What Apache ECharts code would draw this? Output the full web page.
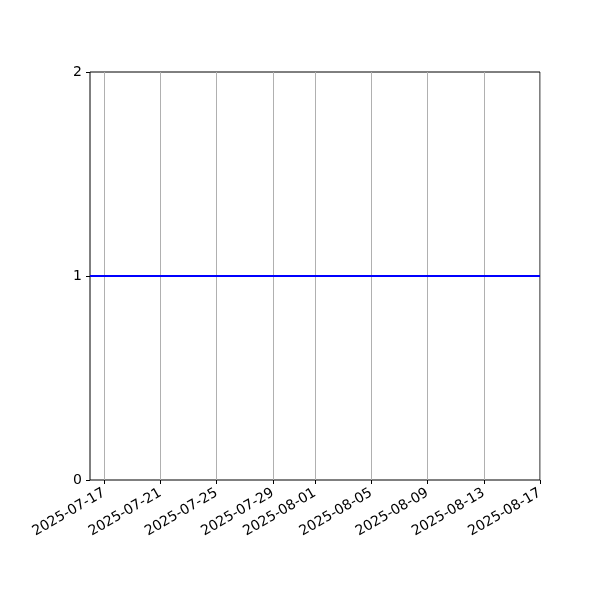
<!DOCTYPE html>
<html><head><meta charset="utf-8">
<script src="https://cdn.jsdelivr.net/npm/echarts@6/dist/echarts.min.js"></script>
<style>html,body{margin:0;padding:0;background:#fff}#c{width:600px;height:600px}</style>
</head><body><div id="c"></div>
<script>
const dates = ["2025-07-16","2025-07-17","2025-07-18","2025-07-19","2025-07-20","2025-07-21","2025-07-22","2025-07-23","2025-07-24","2025-07-25","2025-07-26","2025-07-27","2025-07-28","2025-07-29","2025-07-30","2025-07-31","2025-08-01","2025-08-02","2025-08-03","2025-08-04","2025-08-05","2025-08-06","2025-08-07","2025-08-08","2025-08-09","2025-08-10","2025-08-11","2025-08-12","2025-08-13","2025-08-14","2025-08-15","2025-08-16","2025-08-17"];
const values = [1,1,1,1,1,1,1,1,1,1,1,1,1,1,1,1,1,1,1,1,1,1,1,1,1,1,1,1,1,1,1,1,1];
const xTickLabels = ["2025-07-17","2025-07-21","2025-07-25","2025-07-29","2025-08-01","2025-08-05","2025-08-09","2025-08-13","2025-08-17"];
const yTicks = [0,1,2];

const isTick = (i) => xTickLabels.includes(dates[i]);
const chart = echarts.init(document.getElementById('c'), null, {renderer:'canvas'});
chart.setOption({
  animation:false,
  grid:{left:90,right:60,top:72,bottom:120,show:true,borderColor:'#000',borderWidth:1,backgroundColor:'transparent'},
  xAxis:{
    type:'category', data:dates, boundaryGap:false,
    axisLine:{show:false},
    axisTick:{show:true,alignWithLabel:true,interval:(i)=>isTick(i),length:4,lineStyle:{color:'#000'}},
    axisLabel:{interval:(i)=>isTick(i),rotate:30,color:'#000',fontFamily:'DejaVu Sans',fontSize:14,margin:12},
    splitLine:{show:true,interval:(i)=>isTick(i),lineStyle:{color:'#b0b0b0',width:1}}
  },
  yAxis:{
    type:'value', min:yTicks[0], max:yTicks[yTicks.length-1], interval:1,
    axisLine:{show:false},
    axisTick:{show:true,length:4,lineStyle:{color:'#000'}},
    axisLabel:{color:'#000',fontFamily:'DejaVu Sans',fontSize:14,margin:8},
    splitLine:{show:false}
  },
  series:[{type:'line',data:values,showSymbol:false,lineStyle:{color:'#0000ff',width:2}}]
});
</script></body></html>
